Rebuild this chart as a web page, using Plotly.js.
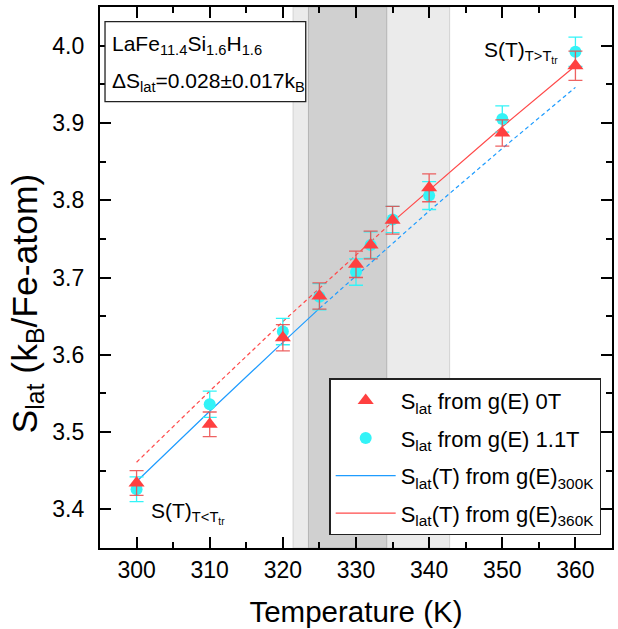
<!DOCTYPE html>
<html>
<head>
<meta charset="utf-8">
<script src="https://cdn.plot.ly/plotly-3.0.1.min.js"></script>
<style>html,body{margin:0;padding:0;background:#fff}#chart{width:618px;height:629px}</style>
</head>
<body>
<div id="chart"></div>
<script>
// ---- data ----
var T0 = [300, 310, 320, 325, 330, 332, 335, 340, 350, 360];
var S0 = [3.434, 3.510, 3.622, 3.676, 3.717, 3.742, 3.774, 3.816, 3.887, 3.974];
var E0 = [0.016, 0.016, 0.017, 0.017, 0.017, 0.018, 0.018, 0.018, 0.017, 0.019];

var T11 = [300, 310, 320, 325, 330, 332, 335, 340, 350, 360];
var S11 = [3.426, 3.536, 3.630, 3.675, 3.707, 3.742, 3.775, 3.806, 3.905, 3.992];
var E11 = [0.016, 0.017, 0.017, 0.017, 0.017, 0.017, 0.017, 0.018, 0.017, 0.019];

var blueSolidT = [300, 310, 320, 325];
var blueSolidS = [3.436, 3.527, 3.616, 3.660];
var blueDashT = [325, 330, 340, 350, 360];
var blueDashS = [3.660, 3.702, 3.786, 3.867, 3.946];

var redDashT = [300, 310, 320, 330, 335];
var redDashS = [3.461, 3.553, 3.643, 3.729, 3.772];
var redSolidT = [335, 340, 350, 360];
var redSolidS = [3.772, 3.813, 3.895, 3.974];

var lightBand = [321.4, 342.8];
var darkBand = [323.5, 334.2];

var xTicks = [300, 310, 320, 330, 340, 350, 360];
var yTicks = [3.4, 3.5, 3.6, 3.7, 3.8, 3.9, 4.0];

var FONT = 'Liberation Sans, Arial, sans-serif';
var RED = '#ff4040';
var CYAN = '#33f3f7';
var BLUE = '#1e9cff';
var REDLINE = '#ff4a4a';

var traces = [
  {x: blueSolidT, y: blueSolidS, mode: 'lines', line: {color: BLUE, width: 1.2},
   name: 'S<sub>lat</sub>(T) from g(E)<sub>300K</sub>', legendrank: 3, legendgroup: 'c'},
  {x: blueDashT, y: blueDashS, mode: 'lines', line: {color: BLUE, width: 1.2, dash: '4px,3px'},
   showlegend: false, legendgroup: 'c', legendrank: 3},
  {x: redDashT, y: redDashS, mode: 'lines', line: {color: REDLINE, width: 1.2, dash: '4px,3px'},
   showlegend: false, legendgroup: 'd', legendrank: 4},
  {x: redSolidT, y: redSolidS, mode: 'lines', line: {color: REDLINE, width: 1.2},
   name: 'S<sub>lat</sub>(T) from g(E)<sub>360K</sub>', legendrank: 4, legendgroup: 'd'},
  {x: T11, y: S11, mode: 'markers', marker: {symbol: 'circle', size: 12, color: CYAN},
   error_y: {type: 'data', array: E11, visible: true, color: CYAN, thickness: 1.3, width: 7},
   name: 'S<sub>lat</sub> from g(E) 1.1T', legendrank: 2, legendgroup: 'b'},
  {x: T0, y: S0, mode: 'markers', marker: {symbol: 'triangle-up', size: 14, color: RED},
   error_y: {type: 'data', array: E0, visible: true, color: 'rgba(235,70,70,0.85)', thickness: 1.3, width: 7},
   name: 'S<sub>lat</sub> from g(E) 0T', legendrank: 1, legendgroup: 'a'}
];

var layout = {
  width: 618, height: 629,
  margin: {l: 100, r: 6, t: 7, b: 81},
  paper_bgcolor: '#fff', plot_bgcolor: '#fff',
  font: {family: FONT, size: 22, color: '#000'},
  showlegend: true,
  legend: {
    x: 0.448, y: 0.3137, xanchor: 'left', yanchor: 'top',
    bgcolor: '#fff', bordercolor: '#222', borderwidth: 1.3,
    font: {family: FONT, size: 22, color: '#000'},
    itemwidth: 60, tracegroupgap: 6, traceorder: 'grouped'
  },
  xaxis: {
    range: [295, 365], tickvals: xTicks, ticktext: xTicks.map(String),
    ticks: 'inside', ticklen: 11, tickwidth: 2, tickcolor: '#000',
    showline: true, linewidth: 2, linecolor: '#000', mirror: 'ticks',
    showgrid: false, zeroline: false,
    tickfont: {family: FONT, size: 23},
    minor: {dtick: 5, tick0: 300, ticks: 'inside', ticklen: 6, tickwidth: 2, tickcolor: '#000', showgrid: false},
    title: {text: 'Temperature (K)', font: {family: FONT, size: 29.5}, standoff: 20}
  },
  yaxis: {
    range: [3.35, 4.05], tickvals: yTicks,
    ticktext: yTicks.map(function (v) { return v.toFixed(1) + '\u2009\u2009'; }),
    ticks: 'inside', ticklen: 11, tickwidth: 2, tickcolor: '#000',
    showline: true, linewidth: 2, linecolor: '#000', mirror: 'ticks',
    showgrid: false, zeroline: false,
    tickfont: {family: FONT, size: 23},
    minor: {dtick: 0.05, tick0: 3.4, ticks: 'inside', ticklen: 6, tickwidth: 2, tickcolor: '#000', showgrid: false},
    title: {text: ''}
  },
  shapes: [
    {type: 'rect', xref: 'x', yref: 'paper', x0: lightBand[0], x1: lightBand[1], y0: 0, y1: 1,
     fillcolor: '#ebebeb', line: {color: '#d2d2d2', width: 1}, layer: 'below'},
    {type: 'rect', xref: 'x', yref: 'paper', x0: darkBand[0], x1: darkBand[1], y0: 0, y1: 1,
     fillcolor: '#d0d0d0', line: {color: '#b4b4b4', width: 1}, layer: 'below'},
    {type: 'rect', xref: 'paper', yref: 'paper', x0: 0.0098, x1: 0.4018, y0: 0.825, y1: 0.973,
     fillcolor: '#fff', line: {color: '#222', width: 1.3}, layer: 'above'}
  ],
  annotations: [
    {xref: 'paper', yref: 'paper', x: -0.1426, y: 0.452, xanchor: 'center', yanchor: 'middle', showarrow: false,
     textangle: -90, text: 'S<sub>lat</sub> (k<sub>B</sub>/Fe-atom)', font: {family: FONT, size: 35.5}},
    {xref: 'paper', yref: 'paper', x: 0.0195, y: 0.93, xanchor: 'left', yanchor: 'middle', showarrow: false,
     text: 'LaFe<sub>11.4</sub>Si<sub>1.6</sub>H<sub>1.6</sub>', font: {family: FONT, size: 21}},
    {xref: 'paper', yref: 'paper', x: 0.0195, y: 0.862, xanchor: 'left', yanchor: 'middle', showarrow: false,
     text: 'ΔS<sub>lat</sub>=0.028±0.017k<sub>B</sub>', font: {family: FONT, size: 21}},
    {xref: 'paper', yref: 'paper', x: 0.822, y: 0.916, xanchor: 'center', yanchor: 'middle', showarrow: false,
     text: 'S(T)<sub>T&gt;T<sub>tr</sub></sub>', font: {family: FONT, size: 21}},
    {xref: 'paper', yref: 'paper', x: 0.172, y: 0.0647, xanchor: 'center', yanchor: 'middle', showarrow: false,
     text: 'S(T)<sub>T&lt;T<sub>tr</sub></sub>', font: {family: FONT, size: 21}}
  ]
};

Plotly.newPlot('chart', traces, layout, {displayModeBar: false, staticPlot: true});
</script>
</body>
</html>
